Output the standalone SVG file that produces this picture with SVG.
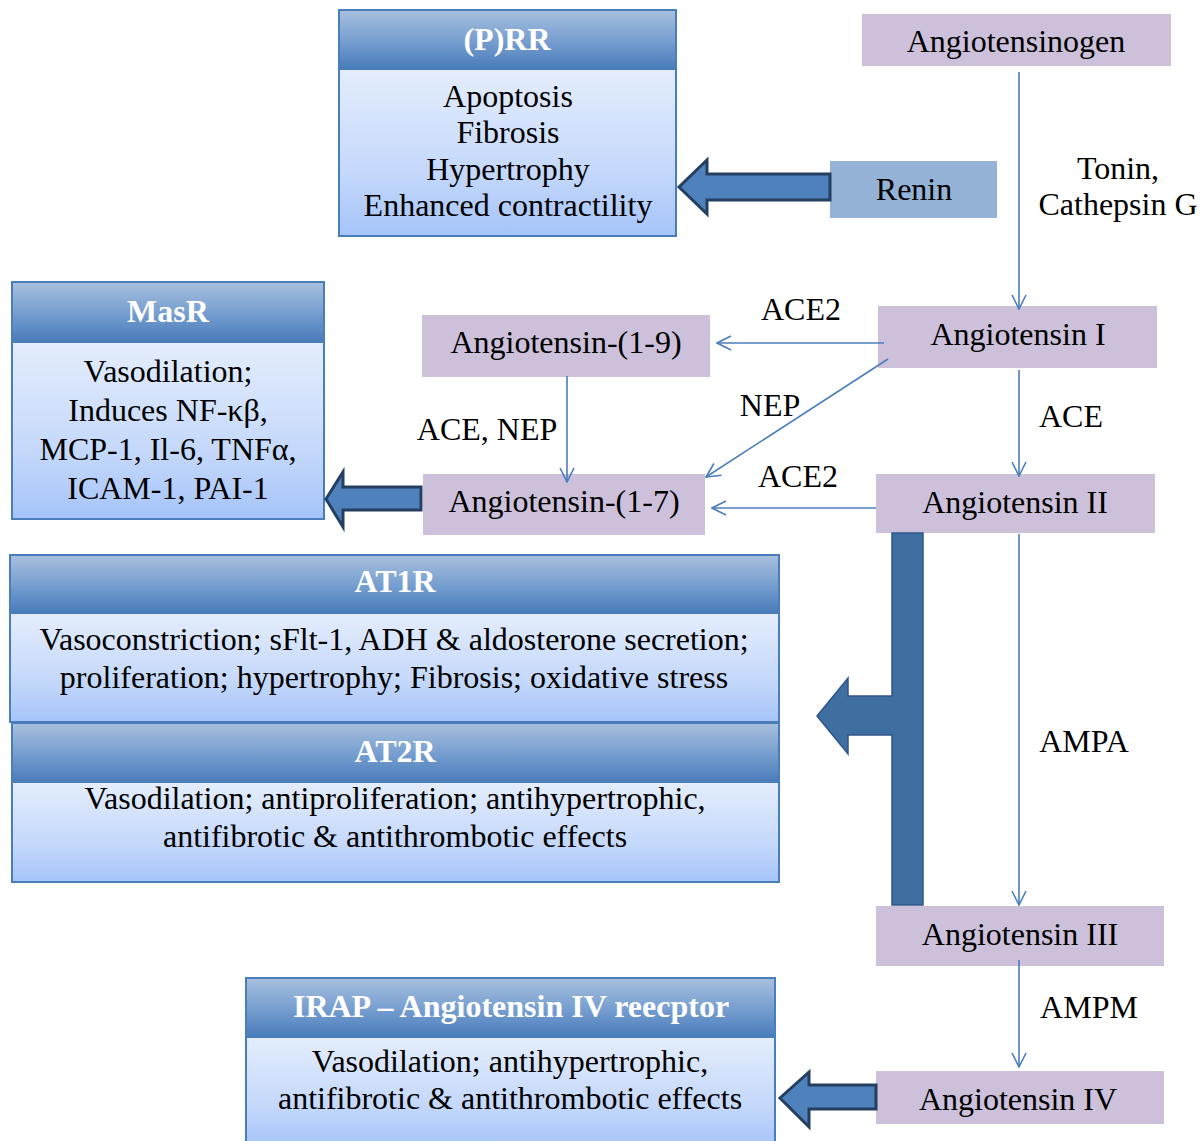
<svg xmlns="http://www.w3.org/2000/svg" width="1201" height="1141" viewBox="0 0 1201 1141">
<defs>
<linearGradient id="hdr" x1="0" y1="0" x2="0" y2="1">
<stop offset="0" stop-color="#a8c0de"/>
<stop offset="0.55" stop-color="#759dcf"/>
<stop offset="1" stop-color="#4a7dbb"/>
</linearGradient>
<linearGradient id="bdy" x1="0" y1="0" x2="0" y2="1">
<stop offset="0" stop-color="#e4edfc"/>
<stop offset="0.6" stop-color="#c6d9fb"/>
<stop offset="1" stop-color="#a5c4f9"/>
</linearGradient>
<marker id="ah" viewBox="0 0 16 16" refX="15" refY="8" markerWidth="16" markerHeight="16" markerUnits="userSpaceOnUse" orient="auto">
<path d="M1,1 L15,8 L1,15" fill="none" stroke="#4a7ebb" stroke-width="1.6"/>
</marker>
<style>
text{font-family:"Liberation Serif","Times New Roman",serif;font-size:32px;fill:#000;text-anchor:middle}
.h{font-weight:bold;fill:#fff}
.pb{fill:#ccc0da}
.hd{fill:url(#hdr);stroke:#4a7ebb;stroke-width:2}
.bd{fill:url(#bdy);stroke:#4a7ebb;stroke-width:2}
.ln{fill:none;stroke:#4a7ebb;stroke-width:1.6;marker-end:url(#ah)}
.ba{fill:#4f81bd;stroke:#243f60;stroke-width:3;stroke-linejoin:miter}
</style>
</defs>

<g id="prr">
<rect class="hd" x="339" y="10" width="337" height="58"/>
<rect class="bd" x="339" y="69" width="337" height="167"/>
<text class="h" x="507" y="50">(P)RR</text>
<text x="508" y="107">Apoptosis</text>
<text x="508" y="143">Fibrosis</text>
<text x="508" y="180">Hypertrophy</text>
<text x="508" y="216">Enhanced contractility</text>
</g>

<g id="angiotensinogen">
<rect class="pb" x="862" y="14" width="309" height="52"/>
<text x="1016" y="52">Angiotensinogen</text>
</g>

<g id="renin">
<rect x="830" y="161" width="167" height="57" fill="#95b3d7"/>
<text x="914" y="200">Renin</text>
</g>

<g id="masr">
<rect class="hd" x="12" y="282" width="312" height="58"/>
<rect class="bd" x="12" y="342" width="312" height="177"/>
<text class="h" x="168" y="322">MasR</text>
<text x="168" y="382">Vasodilation;</text>
<text x="168" y="421">Induces NF-κβ,</text>
<text x="168" y="460">MCP-1, Il-6, TNFα,</text>
<text x="168" y="499">ICAM-1, PAI-1</text>
</g>

<g id="ang19">
<rect class="pb" x="422" y="315" width="288" height="62"/>
<text x="566" y="353">Angiotensin-(1-9)</text>
</g>

<g id="ang17">
<rect class="pb" x="423" y="474" width="282" height="61"/>
<text x="564" y="512">Angiotensin-(1-7)</text>
</g>

<g id="ang1">
<rect class="pb" x="878" y="306" width="279" height="62"/>
<text x="1018" y="345">Angiotensin I</text>
</g>

<g id="ang2">
<rect class="pb" x="876" y="474" width="279" height="59"/>
<text x="1015" y="513">Angiotensin II</text>
</g>

<g id="at1r">
<rect class="hd" x="10" y="555" width="769" height="57"/>
<rect class="bd" x="10" y="613" width="769" height="109"/>
<text class="h" x="395" y="592">AT1R</text>
<text x="394" y="650">Vasoconstriction; sFlt-1, ADH &amp; aldosterone secretion;</text>
<text x="394" y="688">proliferation; hypertrophy; Fibrosis; oxidative stress</text>
</g>

<g id="at2r">
<rect class="hd" x="12" y="723" width="767" height="58"/>
<rect class="bd" x="12" y="782" width="767" height="100"/>
<text class="h" x="395" y="762">AT2R</text>
<text x="395" y="809">Vasodilation; antiproliferation; antihypertrophic,</text>
<text x="395" y="847">antifibrotic &amp; antithrombotic effects</text>
</g>

<g id="ang3">
<rect class="pb" x="876" y="906" width="288" height="60"/>
<text x="1020" y="945">Angiotensin III</text>
</g>

<g id="ang4">
<rect class="pb" x="876" y="1071" width="288" height="53"/>
<text x="1018" y="1110">Angiotensin IV</text>
</g>

<g id="irap">
<rect class="hd" x="246" y="978" width="529" height="58"/>
<rect class="bd" x="246" y="1037" width="529" height="110"/>
<text class="h" x="511" y="1017">IRAP – Angiotensin IV reecptor</text>
<text x="510" y="1072">Vasodilation; antihypertrophic,</text>
<text x="510" y="1109">antifibrotic &amp; antithrombotic effects</text>
</g>

<g id="connectors">
<line class="ln" x1="1019" y1="72" x2="1019" y2="309"/>
<line class="ln" x1="884" y1="343" x2="717" y2="343"/>
<line class="ln" x1="888" y1="359" x2="706" y2="477"/>
<line class="ln" x1="567" y1="376" x2="567" y2="482"/>
<line class="ln" x1="1019" y1="370" x2="1019" y2="476"/>
<line class="ln" x1="876" y1="508" x2="712" y2="508"/>
<line class="ln" x1="1019" y1="534" x2="1019" y2="905"/>
<line class="ln" x1="1019" y1="960" x2="1019" y2="1067"/>
<path class="ba" d="M830,174 L707,174 L707,160 L679,187 L707,214 L707,200 L830,200 Z"/>
<path class="ba" d="M421,487 L343,487 L343,472 L326,499 L343,527 L343,510 L421,510 Z"/>
<path class="ba" d="M876,1085 L809,1085 L809,1072 L780,1098 L809,1127 L809,1109 L876,1109 Z"/>
<path d="M923,533 L923,905 L892,905 L892,735 L848,735 L848,754 L817,716 L848,678 L848,696 L892,696 L892,533 Z" fill="#3f6ea0" stroke="#30568a" stroke-width="1.5"/>
<text x="801" y="320">ACE2</text>
<text x="770" y="416">NEP</text>
<text x="798" y="487">ACE2</text>
<text x="1071" y="427">ACE</text>
<text x="487" y="440">ACE, NEP</text>
<text x="1118" y="179">Tonin,</text>
<text x="1118" y="215">Cathepsin G</text>
<text x="1084" y="752">AMPA</text>
<text x="1089" y="1018">AMPM</text>
</g>
</svg>
